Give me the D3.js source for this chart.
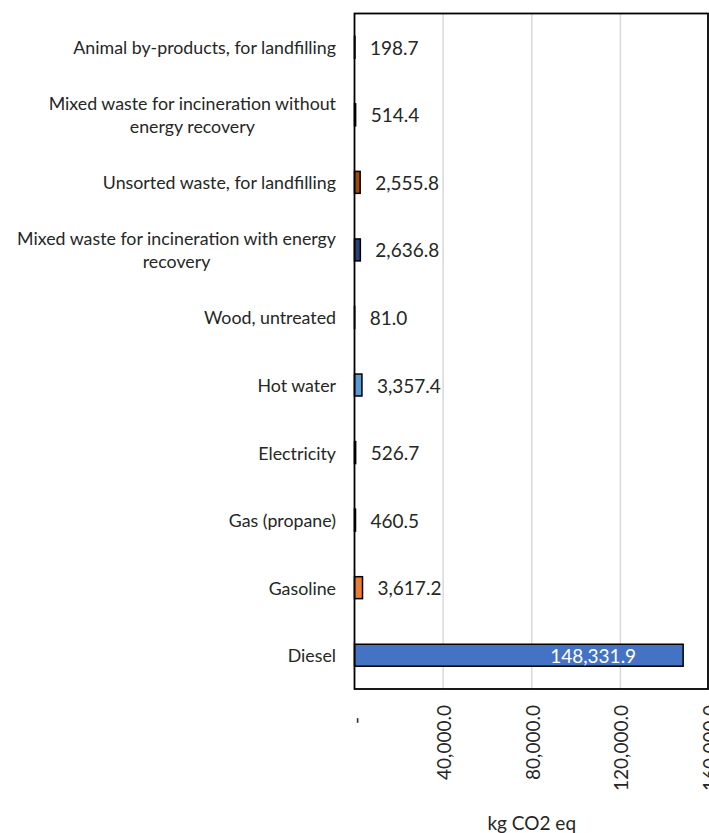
<!DOCTYPE html>
<html><head><meta charset="utf-8">
<script src="https://cdn.jsdelivr.net/npm/d3@7"></script>
<style>
html,body{margin:0;padding:0;background:#fff;}
svg{display:block;}
text{font-family:Lato,"Open Sans",sans-serif;fill:#262626;}
</style></head>
<body>
<script>
const categories = [
  "Animal by-products, for landfilling",
  "Mixed waste for incineration without energy recovery",
  "Unsorted waste, for landfilling",
  "Mixed waste for incineration with energy recovery",
  "Wood, untreated",
  "Hot water",
  "Electricity",
  "Gas (propane)",
  "Gasoline",
  "Diesel"
];
const values = [198.7, 514.4, 2555.8, 2636.8, 81.0, 3357.4, 526.7, 460.5, 3617.2, 148331.9];
const colors = ["#997300","#636363","#9e480e","#264478","#70ad47","#5b9bd5","#ffc000","#a5a5a5","#ed7d31","#4472c4"];
const xTicks = [0, 40000, 80000, 120000, 160000];
const axisTitle = "kg CO2 eq";

const W = 709, H = 833;
const L = 354.5, R = 709, T = 13.5, B = 689;

const svg = d3.select("body").append("svg").attr("width", W).attr("height", H);

const x = d3.scaleLinear().domain([0, 160000]).range([L, R]);
const y = d3.scaleBand().domain(categories).range([T, B]).paddingInner(0.675).paddingOuter(0.3375);

// gridlines
svg.append("g").selectAll("line").data(xTicks.filter(t => t > 0 && t < 160000)).join("line")
  .attr("x1", d => x(d)).attr("x2", d => x(d)).attr("y1", T).attr("y2", B)
  .attr("stroke", "#d9d9d9").attr("stroke-width", 1.5);

// bars
svg.append("g").selectAll("rect").data(values).join("rect")
  .attr("x", x(0)).attr("y", (d, i) => y(categories[i]))
  .attr("width", d => Math.max(0.1, x(d) - x(0))).attr("height", y.bandwidth())
  .attr("fill", (d, i) => colors[i]).attr("stroke", "#000").attr("stroke-width", 1.5);

// plot border
svg.append("rect").attr("x", L).attr("y", T).attr("width", R - L - 1).attr("height", B - T)
  .attr("fill", "none").attr("stroke", "#000").attr("stroke-width", 1.8);

// value labels
const fmt = d3.format(",.1f");
svg.append("g").selectAll("text").data(values).join("text")
  .attr("x", d => d > 100000 ? x(d) - 47 : x(d) + 15)
  .attr("y", (d, i) => y(categories[i]) + y.bandwidth() / 2)
  .attr("dominant-baseline", "central")
  .attr("text-anchor", d => d > 100000 ? "end" : "start")
  .style("font-size", "19px")
  .style("fill", d => d > 100000 ? "#fff" : "#262626")
  .text(d => fmt(d));

// category labels with wrapping (lines centred on each other, block right-aligned)
const catG = svg.append("g");
const catSize = "17.8px";
const maxW = 325, lineH = 23, rightX = 336;
categories.forEach((c, i) => {
  const cy = y(c) + y.bandwidth() / 2;
  const words = c.split(" ");
  const tmp = catG.append("text").style("font-size", catSize);
  const lines = []; let cur = "";
  words.forEach(w => {
    const test = cur ? cur + " " + w : w;
    tmp.text(test);
    if (tmp.node().getComputedTextLength() > maxW && cur) { lines.push(cur); cur = w; }
    else cur = test;
  });
  lines.push(cur);
  let widest = 0;
  lines.forEach(l => { tmp.text(l); widest = Math.max(widest, tmp.node().getComputedTextLength()); });
  tmp.remove();
  const cx = rightX - widest / 2;
  const t = catG.append("text").attr("text-anchor", "middle").style("font-size", catSize);
  lines.forEach((l, k) => {
    t.append("tspan").attr("x", cx)
      .attr("y", cy + (k - (lines.length - 1) / 2) * lineH)
      .attr("dominant-baseline", "central").text(l);
  });
});

// x axis tick labels (rotated)
const axis = d3.axisBottom(x).tickValues(xTicks).tickSize(0)
  .tickFormat(d => d === 0 ? "-" : fmt(d));
const ag = svg.append("g").attr("transform", `translate(0,${B})`).call(axis);
ag.select(".domain").remove();
ag.selectAll("text")
  .attr("y", 0).attr("dy", null)
  .attr("transform", d => `translate(0,${d === 0 ? 28 : 16}) rotate(-90)`)
  .attr("text-anchor", "end").attr("dominant-baseline", "central")
  .style("font-family", "Lato, sans-serif").style("font-size", "19px").attr("fill", "#262626");

// axis title
svg.append("text").attr("x", (L + R) / 2).attr("y", 822)
  .attr("text-anchor", "middle").attr("dominant-baseline", "central")
  .style("font-size", "19px").text(axisTitle);
</script>
</body></html>
